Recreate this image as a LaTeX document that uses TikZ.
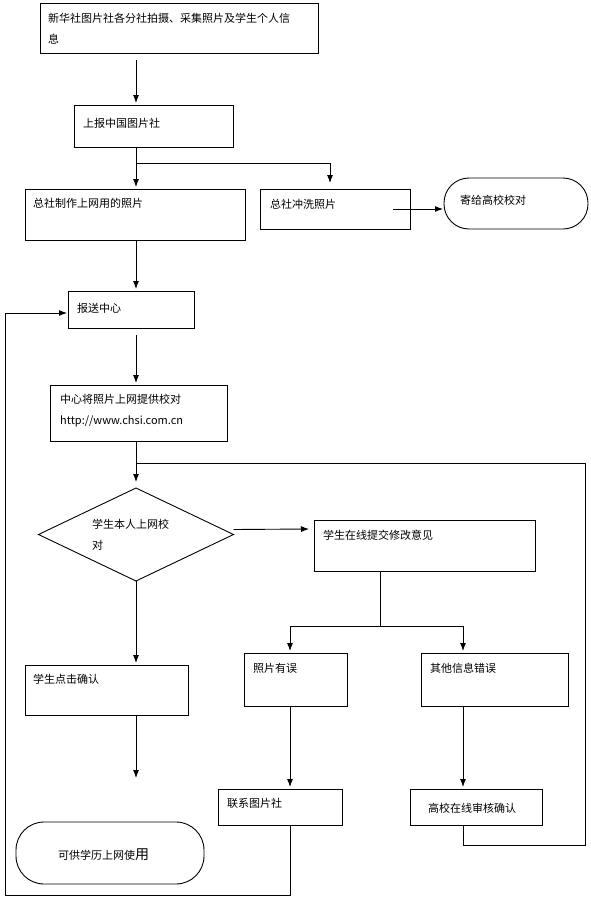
\documentclass[tikz,border=0pt]{standalone}
\usepackage{fontspec}
\newfontfamily\cjk{Noto Sans CJK SC}
\usetikzlibrary{arrows.meta,calc,shapes.geometric}
\begin{document}
\begin{tikzpicture}[x=1pt,y=-1pt,
  box/.style={draw, line width=0.9pt, rectangle, inner sep=0pt, outer sep=0pt, anchor=north west},
  rbox/.style={box, rounded corners=#1},
  txt/.style={font=\cjk\fontsize{11}{21}\selectfont, inner sep=0pt, anchor=west, align=left},
  ln/.style={line width=0.9pt},
  arr/.style={ln, -{Latex[length=8pt,width=6pt]}}]
\useasboundingbox[fill=white] (0,0) rectangle (590,900);
% boxes
\node[box, minimum width=278, minimum height=50] (b1) at (40,3) {};
\node[box, minimum width=159, minimum height=42] (b2) at (74,105) {};
\node[box, minimum width=220, minimum height=51] (b3) at (25,189) {};
\node[box, minimum width=150, minimum height=40] (b4) at (260,189) {};
\node[rbox=25pt, minimum width=144, minimum height=51] (r1) at (444,178) {};
\node[box, minimum width=126, minimum height=37] (b5) at (68,291) {};
\node[box, minimum width=177, minimum height=56] (b6) at (50,385) {};
\node[draw, line width=0.9pt, diamond, inner sep=0pt, outer sep=0pt, minimum width=195, minimum height=93] (d) at (136,534.5) {};
\node[box, minimum width=221, minimum height=51] (b7) at (314,520) {};
\node[box, minimum width=163, minimum height=50] (b8) at (25,665) {};
\node[rbox=28pt, minimum width=188, minimum height=62] (r2) at (16,822) {};
\node[box, minimum width=103, minimum height=53] (b9) at (244,653) {};
\node[box, minimum width=147, minimum height=53] (b10) at (421,653) {};
\node[box, minimum width=124, minimum height=36] (b11) at (218,789) {};
\node[box, minimum width=132, minimum height=36] (b12) at (410,789) {};
% texts
\node[txt] (t1) at (48,29) {新华社图片社各分社拍摄、采集照片及学生个人信\\息};
\node[txt] (t2) at (83,123) {上报中国图片社};
\node[txt] (t3) at (33,203) {总社制作上网用的照片};
\node[txt] (t4) at (270,204) {总社冲洗照片};
\node[txt] (t5) at (460,200) {寄给高校校对};
\node[txt] (t6) at (77,308) {报送中心};
\node[txt] (t7) at (60,410.5) {中心将照片上网提供校对\\http://www.chsi.com.cn};
\node[txt] (t8) at (92,534.5) {学生本人上网校\\对};
\node[txt] (t9) at (323,535) {学生在线提交修改意见};
\node[txt] (t10) at (33,679) {学生点击确认};
\node[txt] (t11) at (58,855) {可供学历上网使{\fontsize{14}{14}\selectfont 用}};
\node[txt] (t12) at (253,668) {照片有误};
\node[txt] (t13) at (430,668) {其他信息错误};
\node[txt] (t14) at (227,803) {联系图片社};
\node[txt] (t15) at (428,808) {高校在线审核确认};
% connectors
\draw[arr] ($(b1.south west)+(96,7)$) -- ($(b2.north west)+(62,-2)$);
\coordinate (j1) at ($(b2.south west)+(62,16)$);
\draw[arr] ($(b2.south west)+(62,0)$) -- ($(b3.north west)+(111,-2)$);
\draw[arr] (j1) -| ($(b4.north west)+(70,-6)$);
\draw[arr] ($(b4.north west)+(133,20)$) -- ($(r1.north west)+(-1,31)$);
\draw[arr] ($(b3.south west)+(111,0)$) -- ($(b5.north west)+(68,-2)$);
\draw[arr] ($(b5.south west)+(68,7)$) -- ($(b6.north west)+(86,-2)$);
\draw[arr] ($(b6.south west)+(86,0)$) -- ($(d.north)+(0,-6)$);
\draw[arr] ($(d.east)+(0,-5)$) -- ($(b7.north west)+(-5,9)$);
\draw[arr] (d.south) -- ($(b8.north west)+(111,-2)$);
\coordinate (free) at ($(b8.south west)+(111,63)$);
\draw[arr] ($(b8.south west)+(111,0)$) -- (free);
\coordinate (j2) at ($(b7.south west)+(66,55)$);
\draw[ln] ($(b7.south west)+(66,0)$) -- (j2);
\draw[arr] (j2) -| ($(b9.north west)+(46,-2)$);
\draw[arr] (j2) -| ($(b10.north west)+(42,-2)$);
\draw[arr] ($(b9.south west)+(46,0)$) -- ($(b11.north west)+(72,-2)$);
\draw[arr] ($(b10.south west)+(42,0)$) -- ($(b12.north west)+(53,-2)$);
\draw[arr] ($(b11.south west)+(72,0)$) -- ++(0,70) -| (5,313) -- ($(b5.north west)+(-1,22)$);
\coordinate (j3) at ($(b6.south west)+(86,22)$);
\draw[ln] ($(b12.south west)+(53,0)$) -- ++(0,20) -- ++(122,0) |- (j3);
\end{tikzpicture}
\end{document}
